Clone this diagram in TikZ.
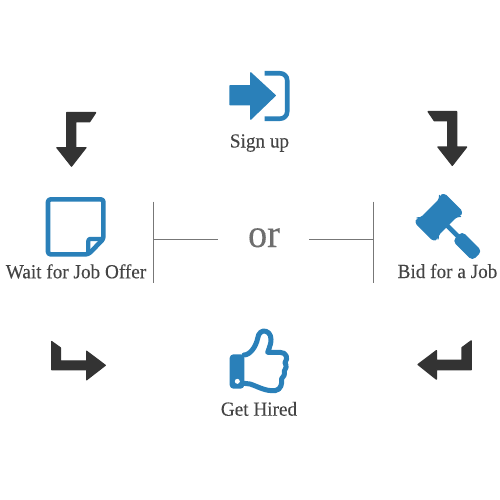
\documentclass[tikz,border=0pt]{standalone}
\usepackage{fontspec}
\setmainfont[FakeStretch=0.96,FakeBold=0.15]{Liberation Serif}
\definecolor{iconblue}{HTML}{2A80B9}
\definecolor{darkarrow}{HTML}{333333}
\definecolor{labeltext}{HTML}{444444}
\definecolor{rulegray}{HTML}{777777}
\definecolor{ortext}{HTML}{6E6E6E}
\tikzset{
  x=1pt,y=-1pt,
  solidblue/.style={fill=iconblue,draw=iconblue,line width=1.2pt,line join=round},
  lineblue/.style={draw=iconblue,line width=4.6pt,line join=round,fill=none},
  bentarrow/.style={fill=darkarrow,draw=darkarrow,line width=1.2pt,line join=round},
  steplabel/.style={text=labeltext,inner sep=0pt,anchor=base,font=\fontsize{20}{22}\selectfont},
  ruleline/.style={draw=rulegray,line width=0.9pt},
}
\begin{document}
\begin{tikzpicture}
\useasboundingbox (0,0) rectangle (500,500);
\fill[white] (0,0) rectangle (500,500);

% sign up icon
\path[solidblue] (230,85.7) -- (250.7,85.7) -- (250.7,72.8) -- (275.3,95.5) -- (250.7,119.2) -- (250.7,104.8) -- (230,104.8) -- cycle;
\draw[lineblue,rounded corners=7pt] (264.5,73.3) -- (287.2,73.3) -- (287.2,118.7) -- (264.5,118.7);
\node[steplabel] (signup) at (259.5,147.5) {Sign up};

% top-left arrow
\path[bentarrow] (66.6,112.6) -- (95.7,112.6) -- (89.7,121.7) -- (75.7,121.7) -- (75.7,147.6) -- (86,147.6) -- (71.5,166.2) -- (56.8,147.6) -- (66.6,147.6) -- cycle;

% top-right arrow
\path[bentarrow] (428.1,111.6) -- (456.7,111.6) -- (456.7,147) -- (466.7,147) -- (452.3,165.4) -- (437.9,147) -- (447.6,147) -- (447.6,120.7) -- (434.2,120.7) -- cycle;

% note icon
\draw[lineblue,line width=4.6pt,rounded corners=2.5pt] (48,199.4) -- (103.4,199.4) -- (103.4,239) -- (88.3,254.3) -- (48,254.3) -- cycle;
\draw[draw=iconblue,line width=4.2pt,line join=round,rounded corners=2pt] (88.3,253) -- (88.3,238.9) -- (103.4,238.9);
\node[steplabel] (wait) at (76,278.3) {Wait for Job Offer};

% gavel icon
\begin{scope}[shift={(438.8,217.2)},rotate=-45]
  \path[solidblue,rounded corners=3.5pt] (-13.5,-20.5) -- (13.5,-20.5) -- (13.5,-15) -- (12,-14) -- (12,14) -- (13.5,15) -- (13.5,20.5) -- (-13.5,20.5) -- (-13.5,15) -- (-12,14) -- (-12,-14) -- (-13.5,-15) -- cycle;
  \path[solidblue] (10,-1.7) rectangle (29,1.7);
  \path[solidblue,rounded corners=4pt] (27,-6) rectangle (54,6.5);
\end{scope}
\node[steplabel] (bid) at (447.5,278) {Bid for a Job};

% or group
\node[text=ortext,inner sep=0pt,anchor=base,font=\fontsize{40}{42}\selectfont] (or) at (264,247) {or};
\coordinate (ltop) at (153.5,201.7);
\coordinate (lbot) at (153.5,282.7);
\coordinate (lmid) at (153.5,239.5);
\coordinate (lend) at (217.7,239.5);
\coordinate (rtop) at (373.7,201.7);
\coordinate (rbot) at (373.7,282.7);
\coordinate (rmid) at (373.7,239.5);
\coordinate (rend) at (309,239.5);
\draw[ruleline] (ltop) -- (lbot);
\draw[ruleline] (lmid) -- (lend);
\draw[ruleline] (rtop) -- (rbot);
\draw[ruleline] (rmid) -- (rend);

% bottom-left arrow
\path[bentarrow] (51.6,341.5) -- (60.4,347.8) -- (60.4,360.9) -- (86.6,360.9) -- (86.6,351.2) -- (105.3,365.3) -- (86.6,379.8) -- (86.6,369.7) -- (51.6,369.7) -- cycle;

% bottom-right arrow
\path[bentarrow] (471.2,340.8) -- (462,347.6) -- (462,360.3) -- (436.4,360.3) -- (436.4,350.6) -- (418,364.5) -- (436.4,379.2) -- (436.4,369.7) -- (471.2,369.7) -- cycle;

% thumb icon
\begin{scope}[shift={(205,320)},x=0.3333pt,y=-0.3333pt]
  \path[solidblue,rounded corners=3pt] (76,105) -- (116,105) -- (116,204) -- (76,204) -- cycle;
  \fill[white] (97,184) circle (7.5);
  \draw[draw=iconblue,line width=5pt,line join=round,line cap=round]
    (117,105) .. controls (135,105) and (153,80) .. (158,55)
    .. controls (160,38) and (172,30) .. (183,34)
    .. controls (197,38) and (200,55) .. (197,70)
    .. controls (195,80) and (190,90) .. (188,97)
    -- (225,97)
    .. controls (245,97) and (250,115) .. (240,128)
    .. controls (246,138) and (243,148) .. (238,153)
    .. controls (240,163) and (236,172) .. (230,176)
    .. controls (232,190) and (228,210) .. (210,212)
    .. controls (180,214) and (160,200) .. (135,192)
    -- (117,190);
\end{scope}
\node[steplabel] (hired) at (259,415.7) {Get Hired};
\end{tikzpicture}
\end{document}
